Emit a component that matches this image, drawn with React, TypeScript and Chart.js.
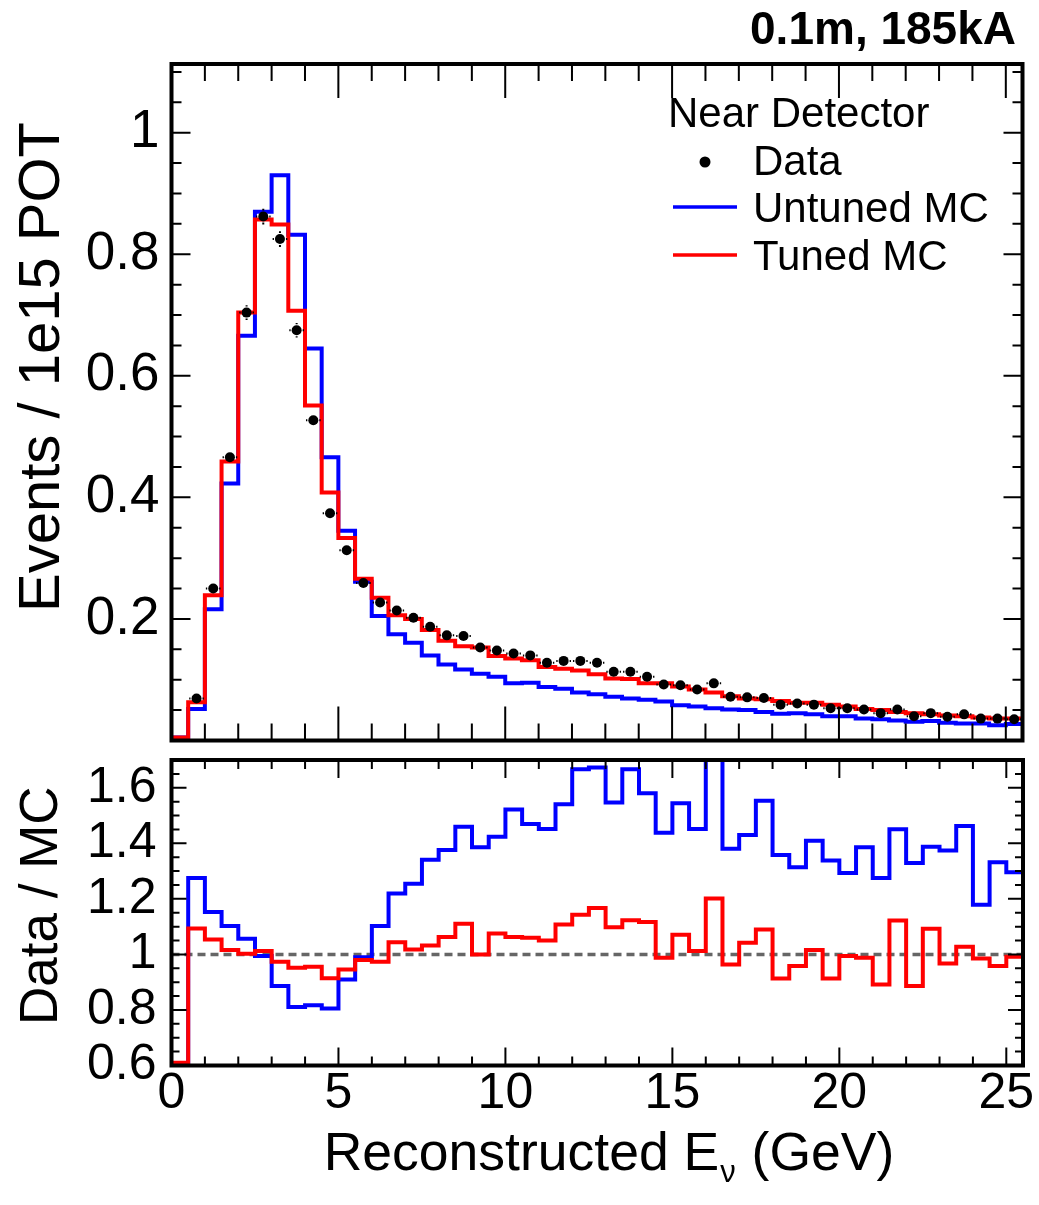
import React, { useEffect, useRef } from 'react';
import { Chart, registerables } from 'chart.js';

Chart.register(...registerables);

const FONT = '"Liberation Sans", Arial, Helvetica, sans-serif';

// ---- DATA ----
const BIN_WIDTH = 0.5;
const X_MIN = 0;
const X_MAX = 25.5;
const binLowEdges = [
  0, 0.5, 1, 1.5, 2, 2.5, 3, 3.5, 4, 4.5, 5, 5.5, 6, 6.5, 7, 7.5, 8, 8.5, 9, 9.5,
  10, 10.5, 11, 11.5, 12, 12.5, 13, 13.5, 14, 14.5, 15, 15.5, 16, 16.5, 17, 17.5,
  18, 18.5, 19, 19.5, 20, 20.5, 21, 21.5, 22, 22.5, 23, 23.5, 24, 24.5, 25,
];

const untunedMC = [
  0.005, 0.052, 0.216, 0.423, 0.666, 0.870, 0.930, 0.832, 0.645, 0.466,
  0.345, 0.261, 0.205, 0.175, 0.161, 0.140, 0.125, 0.117, 0.110, 0.105,
  0.094, 0.095, 0.088, 0.085, 0.079, 0.076, 0.072, 0.069, 0.067, 0.064,
  0.058, 0.056, 0.053, 0.051, 0.050, 0.047, 0.044, 0.045, 0.043, 0.040,
  0.040, 0.036, 0.035, 0.033, 0.031, 0.032, 0.029, 0.028, 0.028, 0.025,
  0.027,
];

const tunedMC = [
  0.005, 0.063, 0.239, 0.459, 0.704, 0.857, 0.849, 0.707, 0.551, 0.408,
  0.333, 0.266, 0.235, 0.206, 0.200, 0.182, 0.164, 0.155, 0.153, 0.139,
  0.135, 0.132, 0.121, 0.118, 0.115, 0.109, 0.102, 0.101, 0.094, 0.094,
  0.089, 0.084, 0.079, 0.073, 0.069, 0.068, 0.065, 0.062, 0.062, 0.059,
  0.056, 0.052, 0.050, 0.047, 0.045, 0.043, 0.041, 0.040, 0.038, 0.036,
  0.036,
];

const dataEvents: (number | null)[] = [
  null, 0.069, 0.250, 0.466, 0.704, 0.862, 0.825, 0.675, 0.527, 0.374,
  0.313, 0.259, 0.227, 0.214, 0.202, 0.187, 0.173, 0.172, 0.153, 0.148,
  0.143, 0.140, 0.128, 0.131, 0.131, 0.128, 0.113, 0.113, 0.105, 0.092,
  0.091, 0.084, 0.094, 0.072, 0.071, 0.070, 0.059, 0.061, 0.059, 0.053,
  0.053, 0.051, 0.045, 0.051, 0.040, 0.045, 0.039, 0.043, 0.036, 0.036,
  0.035,
];

const dataErr = [
  0, 0.004, 0.008, 0.010, 0.012, 0.013, 0.013, 0.012, 0.011, 0.009,
  0.008, 0.007, 0.007, 0.006, 0.006, 0.006, 0.006, 0.006, 0.005, 0.005,
  0.005, 0.005, 0.005, 0.005, 0.005, 0.005, 0.005, 0.005, 0.005, 0.004,
  0.004, 0.004, 0.004, 0.004, 0.004, 0.004, 0.004, 0.004, 0.004, 0.004,
  0.004, 0.004, 0.004, 0.004, 0.004, 0.004, 0.004, 0.004, 0.004, 0.004,
  0.004,
];

const ratioUntuned = [
  0.605, 1.275, 1.153, 1.102, 1.056, 0.994, 0.886, 0.811, 0.817, 0.805,
  0.910, 0.990, 1.102, 1.219, 1.254, 1.341, 1.376, 1.460, 1.386, 1.424,
  1.522, 1.470, 1.452, 1.541, 1.667, 1.673, 1.547, 1.667, 1.580, 1.438,
  1.544, 1.452, 1.700, 1.380, 1.430, 1.553, 1.358, 1.314, 1.409, 1.338,
  1.293, 1.386, 1.275, 1.451, 1.329, 1.388, 1.374, 1.462, 1.179, 1.332,
  1.296,
];

const ratioTuned = [
  0.61, 1.093, 1.054, 1.016, 1.002, 1.012, 0.974, 0.952, 0.956, 0.914,
  0.946, 0.980, 0.974, 1.044, 1.018, 1.032, 1.063, 1.110, 1.000, 1.075,
  1.063, 1.060, 1.050, 1.108, 1.143, 1.167, 1.098, 1.123, 1.117, 0.988,
  1.071, 1.012, 1.201, 0.964, 1.042, 1.090, 0.913, 0.958, 1.016, 0.913,
  0.994, 0.988, 0.892, 1.122, 0.886, 1.092, 0.967, 1.028, 0.985, 0.958,
  0.992,
];

const xTickValues = [0, 5, 10, 15, 20, 25];
const xTickLabels = ['0', '5', '10', '15', '20', '25'];
const topYTickValues = [0.2, 0.4, 0.6, 0.8, 1];
const topYTickLabels = ['0.2', '0.4', '0.6', '0.8', '1'];
const bottomYTickValues = [0.6, 0.8, 1, 1.2, 1.4, 1.6];
const bottomYTickLabels = ['0.6', '0.8', '1', '1.2', '1.4', '1.6'];
const TOP_Y_MIN = 0;
const TOP_Y_MAX = 1.113;
const BOT_Y_MIN = 0.6;
const BOT_Y_MAX = 1.7;
const REF_LINE = 1;

const title = '0.1m, 185kA';
const legendHeader = 'Near Detector';
const legendData = 'Data';
const legendUntuned = 'Untuned MC';
const legendTuned = 'Tuned MC';
const topYTitle = 'Events / 1e15 POT';
const bottomYTitle = 'Data / MC';

const BLUE = '#0000ff';
const RED = '#ff0000';

// ---- helpers ----
function range(a: number, b: number, step: number) {
  const out: number[] = [];
  for (let v = a; v <= b + 1e-9; v += step) out.push(Math.round(v * 1000) / 1000);
  return out;
}

function toSteps(values: number[]) {
  const pts = binLowEdges.map((x, i) => ({ x, y: values[i] }));
  pts.push({ x: X_MAX, y: values[values.length - 1] });
  return pts;
}

function histDataset(label: string, values: number[], color: string, order: number) {
  return {
    label,
    data: toSteps(values),
    borderColor: color,
    backgroundColor: color,
    borderWidth: 4,
    pointRadius: 0,
    stepped: 'before' as const,
    fill: false,
    borderJoinStyle: 'miter' as const,
    borderCapStyle: 'butt' as const,
    order,
  };
}

const zeroPad = (s: any) => {
  s.paddingTop = 0;
  s.paddingBottom = 0;
  s.paddingLeft = 0;
  s.paddingRight = 0;
};

type TickCfg = {
  xMajor: number[]; xMinor: number[]; yMajor: number[]; yMinor: number[];
  xMajLen: number; xMinLen: number; yMajLen: number; yMinLen: number;
};

function framePlugin(cfg: TickCfg) {
  return {
    id: 'frameTicks',
    afterDraw(chart: any) {
      const { ctx, chartArea: a } = chart;
      const xs = chart.scales.x;
      const ys = chart.scales.y;
      ctx.save();
      ctx.strokeStyle = '#000';
      ctx.lineWidth = 2;
      ctx.beginPath();
      const vx = (v: number, len: number) => {
        const p = xs.getPixelForValue(v);
        ctx.moveTo(p, a.bottom); ctx.lineTo(p, a.bottom - len);
        ctx.moveTo(p, a.top); ctx.lineTo(p, a.top + len);
      };
      const vy = (v: number, len: number) => {
        const p = ys.getPixelForValue(v);
        ctx.moveTo(a.left, p); ctx.lineTo(a.left + len, p);
        ctx.moveTo(a.right, p); ctx.lineTo(a.right - len, p);
      };
      cfg.xMinor.forEach((v) => vx(v, cfg.xMinLen));
      cfg.xMajor.forEach((v) => vx(v, cfg.xMajLen));
      cfg.yMinor.forEach((v) => vy(v, cfg.yMinLen));
      cfg.yMajor.forEach((v) => vy(v, cfg.yMajLen));
      ctx.stroke();
      ctx.lineWidth = 4;
      ctx.strokeRect(a.left, a.top, a.right - a.left, a.bottom - a.top);
      ctx.restore();
    },
  };
}

const errorBarPlugin = {
  id: 'errorBars',
  afterDatasetsDraw(chart: any) {
    const { ctx } = chart;
    const xs = chart.scales.x;
    const ys = chart.scales.y;
    ctx.save();
    ctx.strokeStyle = '#000';
    ctx.lineWidth = 2;
    ctx.beginPath();
    const g = 6;
    binLowEdges.forEach((lo, i) => {
      const v = dataEvents[i];
      if (v == null) return;
      const xc = xs.getPixelForValue(lo + BIN_WIDTH / 2);
      const yc = ys.getPixelForValue(v);
      const xl = xs.getPixelForValue(lo);
      const xh = xs.getPixelForValue(lo + BIN_WIDTH);
      ctx.moveTo(xl + 1, yc); ctx.lineTo(xc - g, yc);
      ctx.moveTo(xc + g, yc); ctx.lineTo(xh - 1, yc);
      const yt = ys.getPixelForValue(v + dataErr[i]);
      const yb = ys.getPixelForValue(v - dataErr[i]);
      if (yc - yt > g + 1) {
        ctx.moveTo(xc, yt); ctx.lineTo(xc, yc - g);
        ctx.moveTo(xc, yc + g); ctx.lineTo(xc, yb);
      }
    });
    ctx.stroke();
    ctx.restore();
  },
};

const topTextPlugin = {
  id: 'topText',
  afterDraw(chart: any) {
    const { ctx } = chart;
    ctx.save();
    ctx.fillStyle = '#000';
    ctx.textBaseline = 'alphabetic';
    // title
    ctx.font = `bold 46px ${FONT}`;
    ctx.textAlign = 'right';
    ctx.fillText(title, 1016, 44);
    // legend
    ctx.font = `42px ${FONT}`;
    ctx.textAlign = 'left';
    ctx.fillText(legendHeader, 668, 127);
    ctx.fillText(legendData, 753, 175);
    ctx.fillText(legendUntuned, 753, 222);
    ctx.fillText(legendTuned, 753, 270);
    ctx.beginPath();
    ctx.arc(705, 162, 5.5, 0, Math.PI * 2);
    ctx.fill();
    ctx.lineWidth = 3.5;
    ctx.strokeStyle = BLUE;
    ctx.beginPath(); ctx.moveTo(673, 207); ctx.lineTo(737, 207); ctx.stroke();
    ctx.strokeStyle = RED;
    ctx.beginPath(); ctx.moveTo(673, 255); ctx.lineTo(737, 255); ctx.stroke();
    // y title
    ctx.font = `58px ${FONT}`;
    ctx.translate(59, 612);
    ctx.rotate(-Math.PI / 2);
    ctx.textAlign = 'left';
    ctx.fillText(topYTitle, 0, 0);
    ctx.restore();
  },
};

const bottomTextPlugin = {
  id: 'bottomText',
  afterDraw(chart: any) {
    const { ctx } = chart;
    ctx.save();
    ctx.fillStyle = '#000';
    ctx.textBaseline = 'alphabetic';
    // x title with subscript
    const main = 53.5;
    const sub = 31;
    const p1 = 'Reconstructed E';
    const p2 = '\u03BD';
    const p3 = ' (GeV)';
    ctx.font = `${main}px ${FONT}`;
    const w1 = ctx.measureText(p1).width;
    const w3 = ctx.measureText(p3).width;
    ctx.font = `${sub}px ${FONT}`;
    const w2 = ctx.measureText(p2).width;
    const total = w1 + w2 + 2 + w3;
    let x = 609 - total / 2;
    const base = 420;
    ctx.textAlign = 'left';
    ctx.font = `${main}px ${FONT}`;
    ctx.fillText(p1, x, base);
    x += w1 + 1;
    ctx.font = `${sub}px ${FONT}`;
    ctx.fillText(p2, x, base + 12);
    x += w2 + 1;
    ctx.font = `${main}px ${FONT}`;
    ctx.fillText(p3, x, base);
    // y title
    ctx.font = `53px ${FONT}`;
    ctx.translate(57, 275);
    ctx.rotate(-Math.PI / 2);
    ctx.fillText(bottomYTitle, 0, 0);
    ctx.restore();
  },
};

function TopChart() {
  const ref = useRef<HTMLCanvasElement>(null);
  useEffect(() => {
    if (!ref.current) return;
    const points = binLowEdges
      .map((lo, i) => (dataEvents[i] == null ? null : { x: lo + BIN_WIDTH / 2, y: dataEvents[i] as number }))
      .filter((p) => p !== null);
    const chart = new Chart(ref.current, {
      type: 'line',
      data: {
        datasets: [
          {
            label: legendData,
            data: points as any,
            showLine: false,
            pointRadius: 5,
            pointHoverRadius: 5,
            pointBackgroundColor: '#000',
            pointBorderColor: '#000',
            pointBorderWidth: 0,
            order: 0,
          } as any,
          histDataset(legendTuned, tunedMC, RED, 1) as any,
          histDataset(legendUntuned, untunedMC, BLUE, 2) as any,
        ],
      },
      options: {
        animation: false,
        responsive: false,
        events: [],
        layout: { padding: { left: 0, top: 64, right: 16.5, bottom: 9.5 } },
        plugins: { legend: { display: false }, tooltip: { enabled: false }, title: { display: false } },
        scales: {
          x: { type: 'linear', min: X_MIN, max: X_MAX, display: false },
          y: {
            type: 'linear',
            min: TOP_Y_MIN,
            max: TOP_Y_MAX,
            grid: { display: false, drawTicks: false },
            border: { display: false },
            afterBuildTicks: (s: any) => { s.ticks = topYTickValues.map((v) => ({ value: v })); },
            afterFit: (s: any) => { s.width = 171.5; zeroPad(s); },
            ticks: {
              padding: 12,
              autoSkip: false,
              color: '#000',
              font: { family: FONT, size: 53 },
              callback: (_v: any, i: number) => topYTickLabels[i],
            },
          },
        },
      } as any,
      plugins: [
        errorBarPlugin,
        framePlugin({
          xMajor: xTickValues, xMinor: range(0, 25, 1),
          yMajor: topYTickValues, yMinor: range(0.05, 1.1, 0.05),
          xMajLen: 34, xMinLen: 17, yMajLen: 19, yMinLen: 10,
        }),
        topTextPlugin,
      ],
    });
    return () => chart.destroy();
  }, []);
  return (
    <canvas
      ref={ref}
      width={1039}
      height={750}
      style={{ position: 'absolute', left: 0, top: 0, width: 1039, height: 750 }}
    />
  );
}

function BottomChart() {
  const ref = useRef<HTMLCanvasElement>(null);
  useEffect(() => {
    if (!ref.current) return;
    const chart = new Chart(ref.current, {
      type: 'line',
      data: {
        datasets: [
          histDataset('Tuned MC ratio', ratioTuned, RED, 1) as any,
          histDataset('Untuned MC ratio', ratioUntuned, BLUE, 2) as any,
          {
            label: 'unity',
            data: [{ x: X_MIN, y: REF_LINE }, { x: X_MAX, y: REF_LINE }],
            borderColor: '#666666',
            borderWidth: 3.5,
            borderDash: [8, 5],
            pointRadius: 0,
            fill: false,
            order: 3,
          } as any,
        ],
      },
      options: {
        animation: false,
        responsive: false,
        events: [],
        layout: { padding: { left: 0, top: 10, right: 16, bottom: 0 } },
        plugins: { legend: { display: false }, tooltip: { enabled: false }, title: { display: false } },
        scales: {
          x: {
            type: 'linear',
            min: X_MIN,
            max: X_MAX,
            grid: { display: false, drawTicks: false },
            border: { display: false },
            afterBuildTicks: (s: any) => { s.ticks = xTickValues.map((v) => ({ value: v })); },
            afterFit: (s: any) => { s.height = 139.5; zeroPad(s); },
            ticks: {
              padding: 0,
              maxRotation: 0,
              autoSkip: false,
              color: '#000',
              font: { family: FONT, size: 50, lineHeight: 1.16 },
              callback: (_v: any, i: number) => xTickLabels[i],
            },
          },
          y: {
            type: 'linear',
            min: BOT_Y_MIN,
            max: BOT_Y_MAX,
            grid: { display: false, drawTicks: false },
            border: { display: false },
            afterBuildTicks: (s: any) => { s.ticks = bottomYTickValues.map((v) => ({ value: v })); },
            afterFit: (s: any) => { s.width = 171.5; zeroPad(s); },
            ticks: {
              padding: 15,
              autoSkip: false,
              color: '#000',
              font: { family: FONT, size: 50 },
              callback: (_v: any, i: number) => bottomYTickLabels[i],
            },
          },
        },
      } as any,
      plugins: [
        framePlugin({
          xMajor: xTickValues, xMinor: range(0, 25, 1),
          yMajor: bottomYTickValues, yMinor: range(0.65, 1.65, 0.05),
          xMajLen: 18, xMinLen: 9, yMajLen: 15, yMinLen: 8,
        }),
        bottomTextPlugin,
      ],
    });
    return () => chart.destroy();
  }, []);
  return (
    <canvas
      ref={ref}
      width={1039}
      height={455}
      style={{ position: 'absolute', left: 0, top: 750, width: 1039, height: 455 }}
    />
  );
}

export default function App() {
  return (
    <div style={{ position: 'absolute', left: 0, top: 0, width: 1039, height: 1205, background: '#fff' }}>
      <TopChart />
      <BottomChart />
    </div>
  );
}
